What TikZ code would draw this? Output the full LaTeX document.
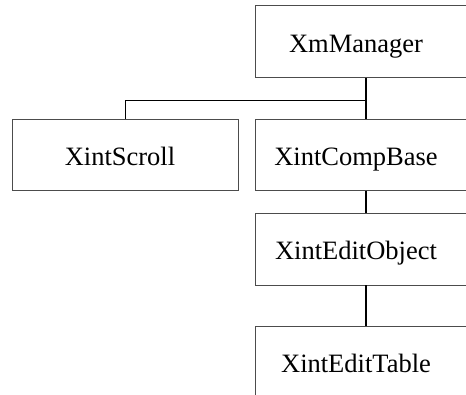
\documentclass[tikz,border=0pt]{standalone}
\usepackage{fontspec}
\setmainfont{Liberation Serif}
\usepackage{tikz}
\usetikzlibrary{positioning}
\tikzset{
  classbox/.style={draw=black!70,line width=0.8pt,rectangle,minimum width=222pt,
    minimum height=72pt,inner sep=0pt,text height=21pt,text depth=0pt,
    font=\fontsize{26.5}{30}\selectfont},
  leftshift/.style={execute at begin node={\hspace{-20pt}}},
  link/.style={line width=1.1pt}
}

\begin{document}
\begin{tikzpicture}[x=1pt,y=1pt]
  \useasboundingbox[clip] (0,0) rectangle (466,-394);
  % the class tree
  \node[classbox,leftshift] (mgr) at (366,-41.5) {XmManager};
  \node[classbox,minimum width=226pt,minimum height=71pt,
    execute at begin node={\hspace{-10pt}}] (scroll) at (125,-155) {XintScroll};
  \node[classbox,leftshift,minimum height=71pt] (comp) at (366,-155) {XintCompBase};
  \node[classbox,leftshift] (editobj) at (366,-249) {XintEditObject};
  \node[classbox,leftshift] (edittab) at (366,-362) {XintEditTable};
  \coordinate (junc) at (366,-100);
  % connectors
  \draw[link] (mgr) -- (comp);
  \draw[line width=0.8pt] (scroll.north) |- (junc);
  \draw[link] (comp) -- (editobj);
  \draw[link] (editobj) -- (edittab);
\end{tikzpicture}
\end{document}
